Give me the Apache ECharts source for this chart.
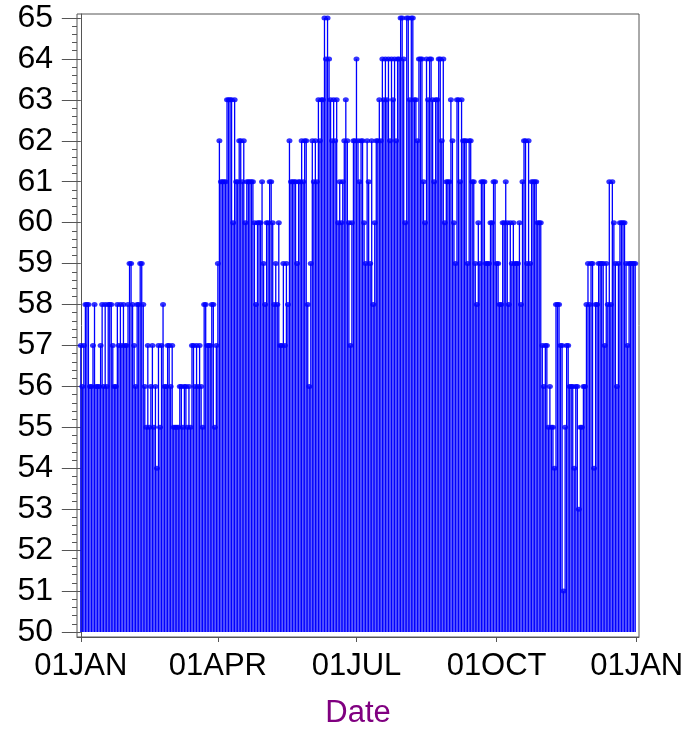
<!DOCTYPE html>
<html lang="en">
<head>
<meta charset="UTF-8">
<title>Date needle plot</title>
<script src="https://cdn.jsdelivr.net/npm/echarts@6/dist/echarts.min.js"></script>
<style>
  html, body { margin: 0; padding: 0; background: #fff; }
  #chart { width: 690px; height: 730px; }
</style>
</head>
<body>
<div id="chart"></div>
<script>
// daily values, one array per month
var jan = [57,56,57,58,58,58,56,56,57,58, 56,56,56,57,58,56,58,56,58,58, 58,57,56,56,58,57,58,57,58,57, 57];
var feb = [58,59,59,58,57,56,58,58,59, 59,58,56,55,57,55,56,57,55,56, 54,57,55,57,58,56,56,57,57];
var mar = [56, 57,55,55,55,55,56,56,55,56,56, 55,56,55,57,57,56,57,56,57,56, 55,58,58,57,57,57,58,58,55,57];
var apr = [59,62,61,61,61,61,63,63,63,63, 60,63,61,61,62,62,61,62,60,61, 61,61,61,61,60,58,60,60,60,61];
var may = [59,58,60,60,61,61,60,58,59,58, 60,57,57,59,57,59,58,62,61,61, 61,61,59,61,61,62,61,62,62,58, 56];
var jun = [59,62,61,62,61,63,62,63,63, 65,64,65,64,63,62,63,62,63,60, 61,60,61,62,63,62,60,57,60,62, 62];
var jul = [64,62,61,62,62,60,59,62,61, 59,62,58,60,62,62,63,62,64,63, 64,63,64,62,64,63,64,62,64,64, 65,65];
var aug = [64,60,65,65,63,65,65,63, 63,62,64,64,64,61,60,64,63,64, 64,63,61,63,63,64,64,62,64,60, 61,61,61];
var sep = [63,62,60,59,63,63,61, 63,62,62,62,59,62,62,61,61,59, 58,60,59,61,61,61,59,59,59,60, 60,61,61];
var oct = [59,59,58,58,60,60,61, 60,58,60,59,60,59,59,59,60,58, 61,62,62,59,62,59,61,61,61,61, 60,60,60,57];
var nov = [56,57,57,55,56,55, 55,54,58,58,58,57,57,51,55,57, 57,56,56,56,54,56,56,53,55,55, 56,56,58,59];
var dec = [58,59,59,54,58,58, 59,59,59,59,57,59,58,61,58,61, 60,59,56,59,60,60,60,60,59,57, 59,59,59,59,59];

var tickDays = [0, 90, 181, 273, 365];
var tickLabels = ['01JAN', '01APR', '01JUL', '01OCT', '01JAN'];
var yTicks = [50, 51, 52, 53, 54, 55, 56, 57, 58, 59, 60, 61, 62, 63, 64, 65];

var values = [].concat(jan, feb, mar, apr, may, jun, jul, aug, sep, oct, nov, dec);
var points = values.map(function (v, i) { return [i, v]; });

var minorTicks = [];
for (var t = 50; t < 65; t++) {
    for (var k = 1; k < 5; k++) minorTicks.push(t + k / 5);
}

var font = '"Liberation Sans", Arial, sans-serif';
var axisGray = '#555555';
// a little padding above 65 and below 50, as in the original frame
var yMin = 50 - 5 / 40.93;
var yMax = 65 + 4 / 40.93;

var chart = echarts.init(document.getElementById('chart'), null, { renderer: 'canvas' });
chart.setOption({
    animation: false,
    backgroundColor: '#ffffff',
    grid: {
        left: 77, right: 51, top: 14, bottom: 93,
        outerBoundsMode: 'none',
        containLabel: false,
        show: true, borderColor: axisGray, borderWidth: 1, backgroundColor: 'transparent'
    },
    xAxis: {
        type: 'value',
        min: -2.5,
        max: 366.5,
        name: 'Date',
        nameLocation: 'middle',
        nameGap: 61,
        nameTextStyle: { color: '#800080', fontSize: 31, fontFamily: font },
        axisLine: { show: true, lineStyle: { color: axisGray, width: 1 } },
        axisTick: { show: true, customValues: tickDays, length: 5, lineStyle: { color: axisGray } },
        axisLabel: {
            customValues: tickDays,
            margin: 14,
            color: '#000', fontSize: 31, fontFamily: font,
            formatter: function (v) { return tickLabels[tickDays.indexOf(v)]; }
        },
        splitLine: { show: false }
    },
    yAxis: [{
        type: 'value',
        min: yMin,
        max: yMax,
        position: 'left',
        axisLine: { show: true, lineStyle: { color: axisGray, width: 1 } },
        axisTick: { show: true, customValues: yTicks, length: 19, lineStyle: { color: axisGray } },
        axisLabel: {
            customValues: yTicks,
            margin: 24,
            color: '#000', fontSize: 32, fontFamily: font,
            formatter: function (v) { return String(Math.round(v)); }
        },
        splitLine: { show: false }
    }, {
        type: 'value',
        min: yMin,
        max: yMax,
        position: 'left',
        axisLine: { show: false },
        axisTick: { show: true, customValues: minorTicks, length: 5, lineStyle: { color: axisGray } },
        axisLabel: { show: false },
        splitLine: { show: false }
    }],
    series: [{
        type: 'custom',
        data: points,
        clip: true,
        renderItem: function (params, api) {
            var x = api.value(0);
            var top = api.coord([x, api.value(1)]);
            var base = api.coord([x, 50]);
            return {
                type: 'line',
                shape: { x1: top[0], y1: base[1], x2: top[0], y2: top[1] },
                style: { stroke: '#0000ff', lineWidth: 1.3 }
            };
        }
    }, {
        type: 'scatter',
        data: points,
        symbol: 'circle',
        symbolSize: [6, 5],
        itemStyle: { color: '#0000ff' }
    }]
});
</script>
</body>
</html>
